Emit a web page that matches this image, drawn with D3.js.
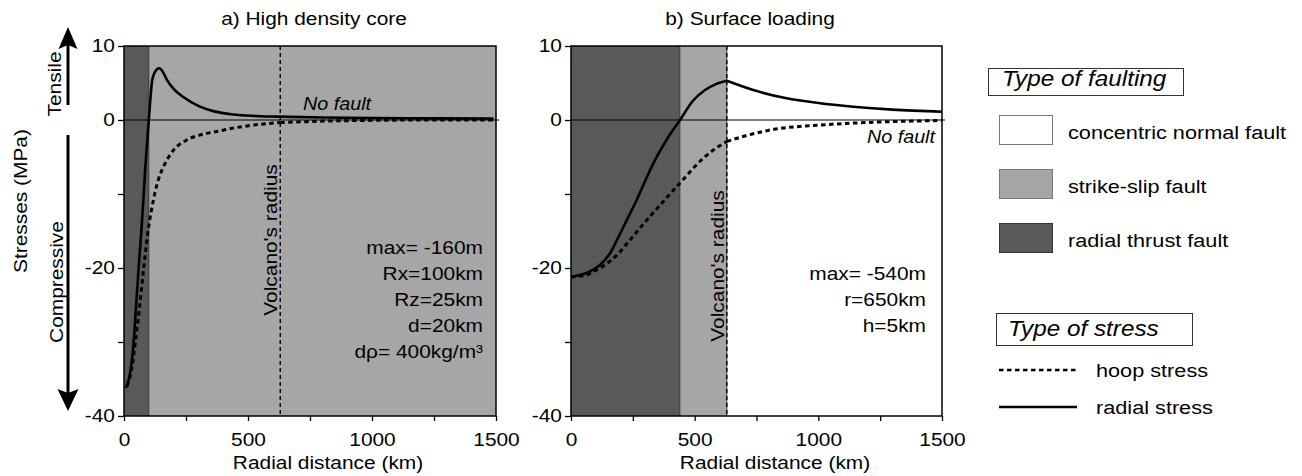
<!DOCTYPE html>
<html>
<head>
<meta charset="utf-8">
<script src="https://cdn.jsdelivr.net/npm/d3@7"></script>
<style>
  body { margin: 0; background: #fff; }
  text { font-family: "Liberation Sans", Arial, Helvetica, sans-serif; fill: #000; }
</style>
</head>
<body>
<div id="chart"></div>
<script>
//Data (km, MPa)
var coreRadialKm = [8, 20, 30, 40, 50, 60, 72, 86, 100, 106, 113, 125, 142, 155, 172, 200, 239, 306, 360, 440, 530, 630, 800, 1000, 1250, 1490];
var coreRadial   = [-36.2, -34.9, -33.0, -29.5, -24.5, -19.5, -14.0, -6.4, 0, 2.7, 5.2, 6.5, 7.0, 6.6, 5.5, 4.2, 3.1, 1.8, 1.2, 0.75, 0.55, 0.45, 0.33, 0.27, 0.22, 0.2];
var coreHoopKm = [12, 30, 46, 62, 78, 95, 110, 125, 140, 158, 180, 199, 253, 310, 374, 440, 508, 630, 800, 1000, 1250, 1490];
var coreHoop   = [-36.0, -33.8, -30.0, -25.5, -20.5, -15.5, -12.3, -9.8, -7.9, -6.4, -5.0, -4.1, -2.7, -2.0, -1.55, -1.1, -0.75, -0.35, -0.15, -0.05, 0, 0];

var loadRadialKm = [0, 36, 77, 117, 158, 186, 226, 267, 307, 340, 388, 441, 493, 542, 586, 630, 737, 872, 1000, 1141, 1300, 1500];
var loadRadial   = [-21.2, -20.95, -20.47, -19.6, -18.0, -16.2, -13.5, -10.7, -7.7, -5.4, -2.6, 0, 2.6, 4.05, 4.85, 5.3, 4.05, 2.93, 2.3, 1.8, 1.4, 1.12];
var loadHoopKm = [0, 57, 117, 178, 239, 299, 360, 441, 534, 582, 630, 703, 805, 1007, 1249, 1500];
var loadHoop   = [-21.2, -21.0, -20.0, -18.5, -16.2, -13.8, -11.5, -8.5, -5.2, -3.9, -2.9, -2.16, -1.35, -0.68, -0.27, -0.07];

//Faulting zones: breaks in km and zone type between breaks
var coreZoneBreaks = [0, 100, 1500];
var coreZoneTypes = ["thrust", "strike"];
var loadZoneBreaks = [0, 440, 630, 1500];
var loadZoneTypes = ["thrust", "strike", "normal"];
var volcanoRadius = 630;

var xTicks = [0, 250, 500, 750, 1000, 1250, 1500];
var xTickLabels = [0, 500, 1000, 1500];
var yTicks = [10, 0, -10, -20, -30, -40];
var yTickLabels = [10, 0, -20, -40];

var coreNotes = ["max= -160m", "Rx=100km", "Rz=25km", "d=20km", "d\u03c1= 400kg/m\u00b3"];
var loadNotes = ["max= -540m", "r=650km", "h=5km"];

var faultNames = ["concentric normal fault", "strike-slip fault", "radial thrust fault"];
var faultKeys = ["normal", "strike", "thrust"];
var stressNames = ["hoop stress", "radial stress"];

//Sizes
var width = 1302, height = 476;
var SX = 1.13; // text in the figure is a bit wider than Arial
var fs = 18.5;
var zoneColor = { thrust: "#595959", strike: "#a6a6a6", normal: "#ffffff" };
var hoopDash = "4.5,3.5";

var svg = d3.select("#chart").append("svg")
  .attr("width", width).attr("height", height);

function label(g, x, y, s, o) {
  o = o || {};
  var t = "translate(" + x + "," + y + ")";
  if (o.rot) t += " rotate(" + o.rot + ")";
  t += " scale(" + SX + ",1)";
  return g.append("text")
    .attr("transform", t)
    .attr("text-anchor", o.anchor || "start")
    .style("font-size", (o.size || fs) + "px")
    .style("font-style", o.italic ? "italic" : "normal")
    .text(s);
}

function zip(km, v) { return km.map(function(d, i) { return { km: d, v: v[i] }; }); }

function panel(opt) {
  var x = d3.scaleLinear().domain([0, 1500]).range([opt.x0, opt.x1]);
  var y = d3.scaleLinear().domain([-40, 10]).range([416, 46]);
  var g = svg.append("g");

  //zones
  g.selectAll("rect.zone")
    .data(opt.zoneTypes)
    .enter().append("rect")
    .attr("class", "zone")
    .attr("x", function(d, i) { return x(opt.zoneBreaks[i]); })
    .attr("y", y(10))
    .attr("width", function(d, i) { return x(opt.zoneBreaks[i + 1]) - x(opt.zoneBreaks[i]); })
    .attr("height", y(-40) - y(10))
    .attr("fill", function(d) { return zoneColor[d]; });
  // thin border between zones
  g.selectAll("line.zb")
    .data(opt.zoneBreaks.slice(1, -1))
    .enter().append("line")
    .attr("x1", function(d) { return x(d); }).attr("x2", function(d) { return x(d); })
    .attr("y1", y(10)).attr("y2", y(-40))
    .attr("stroke", "#333").attr("stroke-width", 1);

  //zero line
  g.append("line")
    .attr("x1", x(0)).attr("x2", x(1500) + 3)
    .attr("y1", y(0)).attr("y2", y(0))
    .attr("stroke", "#000").attr("stroke-width", 1);

  //volcano radius
  g.append("line")
    .attr("x1", x(volcanoRadius)).attr("x2", x(volcanoRadius))
    .attr("y1", y(10)).attr("y2", y(-40))
    .attr("stroke", "#000").attr("stroke-width", 1.4)
    .attr("stroke-dasharray", "4,3");
  label(g, x(volcanoRadius) - 3, opt.radiusY, "Volcano's radius", { rot: -90, anchor: "middle" });

  //curves, split at the volcano radius so the kink stays sharp
  var line = d3.line()
    .x(function(d) { return x(d.km); })
    .y(function(d) { return y(d.v); })
    .curve(d3.curveMonotoneX);
  [[opt.hoop, hoopDash, 3], [opt.radial, null, 2.6]].forEach(function(c) {
    var pts = c[0];
    var a = pts.filter(function(d) { return d.km <= volcanoRadius; });
    var b = pts.filter(function(d) { return d.km >= volcanoRadius; });
    [a, b].forEach(function(seg) {
      g.append("path")
        .datum(seg)
        .attr("d", line)
        .attr("fill", "none")
        .attr("stroke", "#000")
        .attr("stroke-width", c[2])
        .attr("stroke-dasharray", c[1]);
    });
  });

  //frame
  g.append("rect")
    .attr("x", x(0)).attr("y", y(10))
    .attr("width", x(1500) - x(0)).attr("height", y(-40) - y(10))
    .attr("fill", "none").attr("stroke", "#000").attr("stroke-width", 1.5);

  //axes
  var xa = g.append("g")
    .attr("transform", "translate(0," + y(-40) + ")")
    .call(d3.axisBottom(x).tickValues(xTicks).tickSize(5).tickPadding(7)
      .tickFormat(function(d) { return xTickLabels.indexOf(d) >= 0 ? d : ""; }));
  var ya = g.append("g")
    .attr("transform", "translate(" + x(0) + ",0)")
    .call(d3.axisLeft(y).tickValues(yTicks).tickSize(6).tickPadding(2)
      .tickFormat(function(d) { return yTickLabels.indexOf(d) >= 0 ? d : ""; }));
  [xa, ya].forEach(function(a) {
    a.select(".domain").remove();
    a.selectAll("line").attr("stroke", "#000").attr("stroke-width", 1.3);
    a.selectAll("text")
      .attr("fill", "#000")
      .style("font-size", fs + "px")
      .style("font-family", "'Liberation Sans', Arial, Helvetica, sans-serif")
      .attr("transform", "scale(" + SX + ",1)");
  });
  xa.selectAll("text").attr("dy", "1em");
  ya.selectAll("text").attr("dy", "0.3em");

  //titles
  label(g, opt.titleX, 25, opt.title, { anchor: "middle" });
  label(g, opt.xlabelX, 469, "Radial distance (km)", { anchor: "middle" });

  //notes
  opt.notes.forEach(function(s, i) {
    label(g, opt.notesX, opt.notesY + i * 26, s, { anchor: "end" });
  });
  label(g, opt.noFault[0], opt.noFault[1], "No fault", { anchor: opt.noFault[2], italic: true, size: 17.5 });
  return g;
}

panel({
  x0: 124, x1: 496, title: "a) High density core", titleX: 314, xlabelX: 328,
  zoneBreaks: coreZoneBreaks, zoneTypes: coreZoneTypes,
  radial: zip(coreRadialKm, coreRadial), hoop: zip(coreHoopKm, coreHoop),
  radiusY: 240, notes: coreNotes, notesX: 483, notesY: 254,
  noFault: [303, 110, "start"]
});
panel({
  x0: 571, x1: 942, title: "b) Surface loading", titleX: 750, xlabelX: 775,
  zoneBreaks: loadZoneBreaks, zoneTypes: loadZoneTypes,
  radial: zip(loadRadialKm, loadRadial), hoop: zip(loadHoopKm, loadHoop),
  radiusY: 266, notes: loadNotes, notesX: 926, notesY: 280,
  noFault: [935, 143, "end"]
});

//Y label and tensile / compressive arrows
var side = svg.append("g");
label(side, 27, 201, "Stresses (MPa)", { rot: -90, anchor: "middle" });
label(side, 61, 84, "Tensile", { rot: -90, anchor: "middle" });
label(side, 63, 282, "Compressive", { rot: -90, anchor: "middle" });
side.append("line").attr("x1", 68).attr("x2", 68).attr("y1", 105).attr("y2", 45)
  .attr("stroke", "#000").attr("stroke-width", 3);
side.append("path").attr("d", "M68,27 L77.5,49 L68,45 L58.5,49 Z").attr("fill", "#000");
side.append("line").attr("x1", 68).attr("x2", 68).attr("y1", 135).attr("y2", 394)
  .attr("stroke", "#000").attr("stroke-width", 3);
side.append("path").attr("d", "M68,411 L78.5,389 L68,393 L57.5,389 Z").attr("fill", "#000");

//Legend
var leg = svg.append("g");
leg.append("rect").attr("x", 988.5).attr("y", 68.5).attr("width", 195).attr("height", 27)
  .attr("fill", "#fff").attr("stroke", "#333").attr("stroke-width", 1);
label(leg, 1002, 86, "Type of faulting", { italic: true, size: 21.5 });
leg.selectAll("rect.sw")
  .data(faultKeys)
  .enter().append("rect")
  .attr("class", "sw")
  .attr("x", 999.5)
  .attr("y", function(d, i) { return 115.5 + i * 54; })
  .attr("width", 53).attr("height", 29)
  .attr("fill", function(d) { return zoneColor[d]; })
  .attr("stroke", function(d) { return d === "thrust" ? "#333" : "#777"; })
  .attr("stroke-width", 1);
faultNames.forEach(function(s, i) {
  label(leg, 1068, 139 + i * 54, s, { size: 19.2 });
});

leg.append("rect").attr("x", 996.5).attr("y", 313.5).attr("width", 196).attr("height", 32)
  .attr("fill", "#fff").attr("stroke", "#333").attr("stroke-width", 1);
label(leg, 1008, 336, "Type of stress", { italic: true, size: 21.5 });
stressNames.forEach(function(s, i) {
  var yy = 370 + i * 37;
  leg.append("line").attr("x1", 999).attr("x2", 1077).attr("y1", yy).attr("y2", yy)
    .attr("stroke", "#000").attr("stroke-width", 2.6)
    .attr("stroke-dasharray", i === 0 ? hoopDash : null);
  label(leg, 1096, yy + 7, s, { size: 19.2 });
});
</script>
</body>
</html>
